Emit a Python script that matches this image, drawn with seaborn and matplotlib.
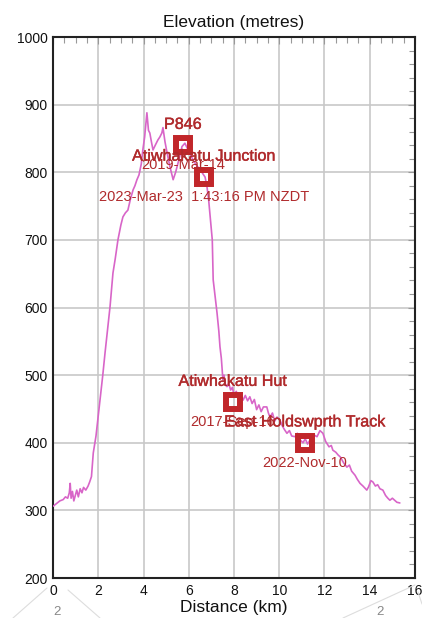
import matplotlib
matplotlib.use("Agg")
import matplotlib.pyplot as plt
import matplotlib.patheffects as pe
import seaborn as sns
import pandas as pd
from matplotlib.ticker import MultipleLocator
from matplotlib.lines import Line2D

# Elevation profile
distance_km = [
    0.0, 0.15, 0.3, 0.45, 0.55, 0.65, 0.72, 0.76, 0.8, 0.86, 0.92, 1.0, 1.05, 1.12, 1.2,
    1.28, 1.35, 1.45, 1.55, 1.62, 1.7, 1.78, 1.9, 2.0, 2.08, 2.2, 2.3, 2.42, 2.52,
    2.65, 2.75, 2.87, 3.0, 3.09, 3.2, 3.31, 3.42, 3.54, 3.62, 3.71, 3.8, 3.9, 3.97,
    4.05, 4.15, 4.22, 4.28, 4.35, 4.42, 4.52, 4.64, 4.72, 4.81, 4.86, 4.95, 5.04,
    5.17, 5.31, 5.42, 5.53, 5.62, 5.7, 5.83, 5.97, 6.08, 6.19, 6.35, 6.5, 6.62, 6.72,
    6.8, 6.88, 6.96, 7.04, 7.08, 7.17, 7.25, 7.33, 7.38, 7.44, 7.47, 7.51, 7.56,
    7.62, 7.69, 7.77, 7.85, 7.93, 8.0, 8.1, 8.2, 8.3, 8.4, 8.5, 8.6, 8.7, 8.8, 8.9,
    9.0, 9.1, 9.2, 9.3, 9.45, 9.52, 9.59, 9.7, 9.8, 9.9, 10.03, 10.12, 10.22, 10.34,
    10.45, 10.55, 10.7, 10.8, 10.9, 11.05, 11.15, 11.25, 11.36, 11.5, 11.67, 11.8,
    11.93, 12.05, 12.2, 12.3, 12.37, 12.5, 12.6, 12.7, 12.85, 12.99, 13.1, 13.2,
    13.35, 13.45, 13.57, 13.7, 13.87, 13.95, 14.05, 14.14, 14.25, 14.35, 14.45,
    14.58, 14.7, 14.8, 14.89, 15.0, 15.1, 15.2, 15.33,
]
elevation_m = [
    306, 310, 314, 316, 320, 318, 326, 340, 318, 328, 314, 324, 330, 320, 332,
    326, 334, 330, 336, 342, 350, 385, 410, 440, 463, 500, 533, 570, 601,
    651, 672, 700, 722, 734, 740, 744, 760, 774, 780, 789, 796, 812, 833,
    852, 888, 862, 858, 845, 833, 840, 848, 852, 858, 866, 845, 829,
    808, 789, 800, 814, 826, 838, 843, 833, 826, 818, 810, 804, 798, 793,
    780, 759, 730, 700, 641, 615, 592, 565, 542, 525, 512, 493, 500,
    486, 483, 488, 478, 482, 470, 476, 466, 472, 463, 470, 462, 468, 458, 464,
    449, 456, 446, 453, 453, 444, 438, 444, 432, 438, 434, 426, 420, 414,
    418, 410, 409, 414, 405, 400, 406, 398, 404, 412, 409, 418,
    414, 402, 394, 396, 389, 386, 382, 379, 370, 364, 367, 358,
    352, 346, 340, 336, 330, 335, 344, 342, 336, 338, 332,
    330, 322, 318, 315, 318, 315, 312, 311,
]

# Points of interest
poi_names = ["P846", "Atiwhakatu Junction", "Atiwhakatu Hut", "East Holdswprth Track"]
poi_dates = ["2019-Mar-14", "2023-Mar-23  1:43:16 PM NZDT", "2017-Sep-16", "2022-Nov-10"]
poi_distance = [5.75, 6.67, 7.95, 11.14]
poi_elevation = [840, 793, 460, 400]

sns.set_theme(style="white")
plt.rcParams['font.family'] = ['Liberation Sans', 'DejaVu Sans']

fig = plt.figure(figsize=(4.22, 6.18), dpi=100)
ax = fig.add_axes([0.1256, 0.0647, 0.8578, 0.8754])

profile = pd.DataFrame({"Distance": distance_km, "Elevation": elevation_m})
sns.lineplot(data=profile, x="Distance", y="Elevation", sort=False,
             color="#d865c8", linewidth=1.2, ax=ax, zorder=3)

pois = pd.DataFrame({"Distance": poi_distance, "Elevation": poi_elevation})
sns.scatterplot(data=pois, x="Distance", y="Elevation", marker="s", s=105,
                facecolor="none", edgecolor="#c1262a", linewidth=4.3, ax=ax, zorder=4)
ax.collections[-1].set_joinstyle("miter")

red_text = "#b02a2c"
for name, date, d, e in zip(poi_names, poi_dates, poi_distance, poi_elevation):
    ax.annotate(name, (d, e), xytext=(0, 15), textcoords="offset points",
                ha="center", va="center", fontsize=11.6, color=red_text, zorder=5,
                path_effects=[pe.withStroke(linewidth=0.3, foreground=red_text)])
    ax.annotate(date, (d, e), xytext=(0, -14.5), textcoords="offset points",
                ha="center", va="center", fontsize=10.5, color=red_text, zorder=5)

ax.set_xlim(0, 16)
ax.set_ylim(200, 1000)
ax.xaxis.set_major_locator(MultipleLocator(2))
ax.xaxis.set_minor_locator(MultipleLocator(0.5))
ax.yaxis.set_major_locator(MultipleLocator(100))
ax.yaxis.set_minor_locator(MultipleLocator(20))
ax.tick_params(which="both", direction="in", top=True, right=True,
               color="#999999", labelsize=10, labelcolor="#111111")
ax.tick_params(which="major", length=5, width=0.8, pad=4)
ax.tick_params(which="minor", length=4, width=0.8)
ax.grid(True, which="major", color="#c8c8c8", linewidth=1.2)
for sp in ax.spines.values():
    sp.set_color("#222222")
    sp.set_linewidth(1.5)

ax.set_title("Elevation (metres)", fontsize=12.5, pad=7, color="#111111")
ax.set_xlabel("Distance (km)", fontsize=12.5, labelpad=2, color="#111111")
ax.set_ylabel("")

# faint overlay lines from the screenshot below the chart
W, H = 422, 618
for (x0, y0), (x1, y1) in [((13, 618), (47, 588)), ((68, 590), (100, 618)),
                           ((343, 618), (415, 585)), ((418, 592), (422, 604))]:
    fig.add_artist(Line2D([x0 / W, x1 / W], [1 - y0 / H, 1 - y1 / H],
                          transform=fig.transFigure, color="#dddddd", linewidth=0.8))
fig.text(57 / W, 1 - 612 / H, "2", fontsize=9.5, color="#888888", ha="center", va="center")
fig.text(380 / W, 1 - 612 / H, "2", fontsize=9.5, color="#888888", ha="center", va="center")

fig.savefig("out.png", dpi=100)
